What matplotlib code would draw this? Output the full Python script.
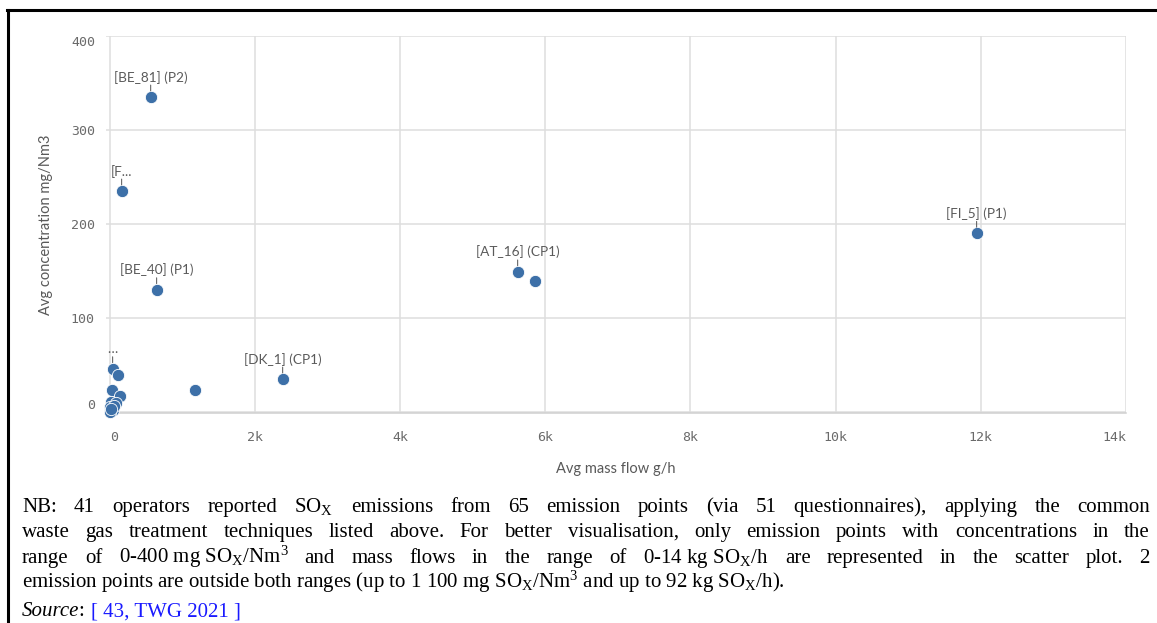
import matplotlib
matplotlib.use("Agg")
import matplotlib.pyplot as plt

plt.rcParams['mathtext.fontset'] = 'custom'
plt.rcParams['mathtext.rm'] = 'Liberation Serif'
plt.rcParams['mathtext.it'] = 'Liberation Serif:italic'

# data (g/h, mg/Nm3)
mass_flow = [565, 165, 647, 5620, 5854, 11942, 2383, 1171,
             41, 110, 28, 138, 14, 83, 10, 40, 5, 60, 20]
concentration = [335, 235, 130, 149, 139, 190, 35, 23,
                 46, 39, 23, 17, 11, 10, 5, 2, 0, 6, 3]
point_labels = ['[BE_81] (P2)', '[F...', '[BE_40] (P1)', '[AT_16] (CP1)', '',
                '[FI_5] (P1)', '[DK_1] (CP1)', '',
                '\u2026', '', '', '', '', '', '', '', '', '', '']

x_ticks = [0, 2000, 4000, 6000, 8000, 10000, 12000, 14000]
x_tick_labels = ['0', '2k', '4k', '6k', '8k', '10k', '12k', '14k']
y_ticks = [0, 100, 200, 300, 400]
y_tick_labels = ['0', '100', '200', '300', '400']

W, H = 1157, 623
fig = plt.figure(figsize=(W / 100, H / 100), dpi=100)

ax = fig.add_axes([106 / W, 1 - 413 / H, 1020 / W, 377 / H])
ax.set_xlim(-50, 14000)
ax.set_ylim(-1, 400)

blue = '#3d70a8'
grey_txt = '#6a6a6a'
grid_c = '#dedede'

ax.scatter(mass_flow, concentration, s=78, color=blue, edgecolor='white',
           linewidth=0.6, zorder=3, clip_on=False)

for x, y, lab in zip(mass_flow, concentration, point_labels):
    if not lab:
        continue
    ax.annotate(lab, (x, y), xytext=(0, 20), textcoords='offset pixels',
                ha='center', va='center', fontsize=9.8,
                family=['Lato', 'DejaVu Sans'], color='#5a5a5a', zorder=4)
    ax.annotate('', (x, y), xytext=(0, 12), textcoords='offset pixels',
                arrowprops=dict(arrowstyle='-', color='#666666', lw=0.8,
                                shrinkA=0, shrinkB=4.5))

ax.set_xticks(x_ticks)
ax.set_xticklabels(x_tick_labels)
ax.set_yticks(y_ticks)
ax.set_yticklabels(y_tick_labels)
ax.grid(True, color=grid_c, linewidth=1.1)
ax.set_axisbelow(True)
for s in ['top', 'right', 'left']:
    ax.spines[s].set_visible(False)
ax.spines['bottom'].set_color('#d0d0d0')
ax.spines['bottom'].set_linewidth(1.1)
ax.tick_params(length=0, labelsize=9.5, labelcolor=grey_txt)
ax.tick_params(axis='x', pad=13)
ax.tick_params(axis='y', pad=8)
for t in ax.get_xticklabels() + ax.get_yticklabels():
    t.set_family('DejaVu Sans Mono')
ax.get_xticklabels()[0].set_ha('left')
ax.get_xticklabels()[-1].set_ha('right')
ax.get_yticklabels()[0].set_va('bottom')
ax.get_yticklabels()[-1].set_va('top')

ax.set_xlabel('Avg mass flow g/h', fontsize=10.5, family='Lato', color='#595959',
              labelpad=13)
ax.set_ylabel('Avg concentration mg/Nm3', fontsize=10.5, family='Lato',
              color='#595959', labelpad=13)

# frame lines around the figure box
fig.add_artist(plt.Line2D([7 / W, 1], [1 - 10 / H, 1 - 10 / H], color='black',
                          lw=2.2, transform=fig.transFigure))
fig.add_artist(plt.Line2D([8 / W, 8 / W], [0, 1 - 10 / H], color='black',
                          lw=2.2, transform=fig.transFigure))

# note below the chart
sox = 'SO$_\\mathrm{X}$'
note_lines = [
    'NB: 41 operators reported ' + sox + ' emissions from 65 emission points '
    '(via 51 questionnaires), applying the common',
    'waste gas treatment techniques listed above. For better visualisation, '
    'only emission points with concentrations in the',
    'range of 0-400\u00a0mg\u00a0' + sox + '/Nm$^3$ and mass flows in the range of '
    '0-14\u00a0kg\u00a0' + sox + '/h are represented in the scatter plot. 2',
    'emission points are outside both ranges (up to 1\u00a0100\u00a0mg\u00a0' + sox +
    '/Nm$^3$ and up to 92\u00a0kg\u00a0' + sox + '/h).',
]
baselines = [512, 537, 563, 588]
fs = 15.0
x0, x1 = 22, 1150

fig.canvas.draw()
rend = fig.canvas.get_renderer()

for i, (line, yb) in enumerate(zip(note_lines, baselines)):
    ypos = 1 - yb / H
    if i == len(note_lines) - 1:
        fig.text(x0 / W, ypos, line, fontsize=fs, family='Liberation Serif',
                 va='baseline', ha='left')
        continue
    words = line.split(' ')
    arts = [fig.text(0, ypos, w, fontsize=fs, family='Liberation Serif',
                     va='baseline', ha='left') for w in words]
    widths = [a.get_window_extent(rend).width for a in arts]
    gap = (x1 - x0 - sum(widths)) / (len(words) - 1)
    xp = x0
    for a, wd in zip(arts, widths):
        a.set_x(xp / W)
        xp += wd + gap

# source line
ys = 1 - 616 / H
t1 = fig.text(x0 / W, ys, 'Source', fontsize=fs, family='Liberation Serif',
              style='italic', va='baseline')
w1 = t1.get_window_extent(rend).width
t2 = fig.text((x0 + w1) / W, ys, ': ', fontsize=fs, family='Liberation Serif',
              va='baseline')
w2 = t2.get_window_extent(rend).width
fig.text((x0 + w1 + w2) / W, ys, '[ 43, TWG 2021 ]', fontsize=fs,
         family='Liberation Serif', color='#1a1aff', va='baseline')

fig.savefig('out.png', dpi=100)
